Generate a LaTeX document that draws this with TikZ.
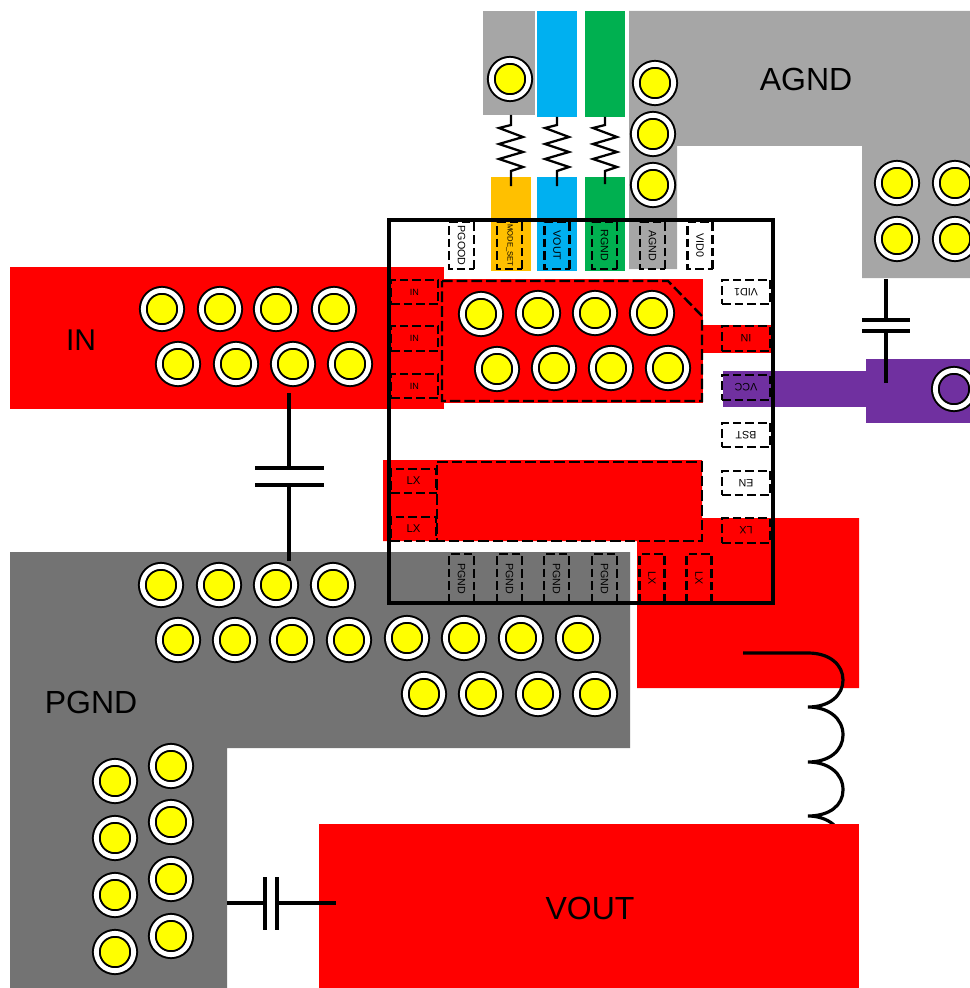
\documentclass[tikz,border=0pt]{standalone}
\usepackage{fontspec}
\setmainfont{Liberation Sans}
\definecolor{agndgrey}{HTML}{A6A6A6}
\definecolor{pgndgrey}{HTML}{737373}
\definecolor{netblue}{HTML}{00B0F0}
\definecolor{netgreen}{HTML}{00B050}
\definecolor{netorange}{HTML}{FFC000}
\definecolor{netpurple}{HTML}{7030A0}
\definecolor{netred}{HTML}{FF0000}
\definecolor{viayellow}{HTML}{FFFF00}
\def\px{0.75pt}
\tikzset{
    via/.style={circle, draw=black, fill=viayellow, line width=1.5pt, double=white, double distance=3.6pt, inner sep=0pt, minimum size=28pt},
    padbox/.style={draw=black, line width=1.7pt, dash pattern=on 6.5pt off 3pt, inner sep=0pt, font=\fontsize{8}{8}\selectfont},
    padtop/.style={padbox, rotate=-90, minimum width=47*\px, minimum height=25*\px},
    padbot/.style={padbox, rotate=-90, minimum width=49*\px, minimum height=25*\px},
    padleft/.style={padbox, minimum width=47*\px, minimum height=24.5*\px},
    padright/.style={padbox, rotate=180, minimum width=48*\px, minimum height=24.5*\px},
    bigpad/.style={draw=black, line width=1.8pt, dash pattern=on 8pt off 3pt},
    net/.style={font=\fontsize{24}{28}\selectfont},
    wire/.style={line width=2.4pt},
}
\begin{document}
\begin{tikzpicture}[x=0.75pt, y=-0.75pt]
    \clip (0,0) rectangle (970,988);

    % copper
    \fill[agndgrey] (483,11) rectangle (535,115);
    \fill[agndgrey] (629,11) -- (970,11) -- (970,278) -- (862,278) -- (862,146) -- (677,146) -- (677,269) -- (629,269) -- cycle;
    \fill[netblue] (537,11) rectangle (577,117);
    \fill[netgreen] (585,11) rectangle (625,117);
    \fill[netorange] (491,177) rectangle (531,271);
    \fill[netblue] (537,177) rectangle (577,271);
    \fill[netgreen] (585,177) rectangle (625,271);
    \fill[netred] (10,267) rectangle (444,409);
    \fill[netred] (442,279) rectangle (703,403);
    \fill[netred] (703,325) rectangle (771,353);
    \fill[netred] (383,460) -- (702,460) -- (702,518) -- (859,518) -- (859,688) -- (637,688) -- (637,541) -- (383,541) -- cycle;
    \fill[pgndgrey] (10,552) -- (630,552) -- (630,748) -- (227,748) -- (227,988) -- (10,988) -- cycle;
    \fill[netpurple] (723,371) rectangle (866,407);
    \fill[netpurple] (866,359) rectangle (970,423);

    % vias
    \foreach \x/\y in {510/79, 655/83, 653/134, 653/185,
        897/183, 955/183, 897/239, 955/239,
        162/309, 220/309, 276/309, 334/309, 178/364, 236/364, 293/364, 350/364,
        481/314, 538/313, 595/313, 652/313, 497/369, 554/368, 611/368, 668/368,
        161/585, 219/585, 276/585, 333/585,
        178/640, 235/640, 292/640, 349/640, 407/638, 464/638, 521/638, 578/638,
        424/694, 481/694, 538/694, 595/694,
        171/766, 115/781, 171/822, 115/838, 171/879, 115/895, 171/936, 115/952}
        \node[via] (v\x-\y) at (\x,\y) {};
    \node[via, fill=netpurple] (vcc via) at (954,389) {};

    % inductor, runs under VOUT
    \draw[wire] (743,653) -- (808,653) .. controls (830,653) and (843,665) .. (843,680)
        .. controls (843,695) and (830,707) .. (808,707)
        .. controls (828,707) and (843,718) .. (843,735)
        .. controls (843,750) and (830,762) .. (808,762)
        .. controls (828,762) and (843,773) .. (843,790)
        .. controls (843,805) and (830,816) .. (808,816)
        .. controls (828,816) and (843,828) .. (843,845);
    \fill[netred] (319,824) rectangle (859,988);

    % net names
    \node[net] (agnd) at (806,79) {AGND};
    \node[net, font=\fontsize{22.5}{26}\selectfont] (in) at (81,340) {IN};
    \node[net] (pgnd) at (91,702) {PGND};
    \node[net] (vout) at (590,908) {VOUT};

    % resistors
    \foreach \x/\a/\b in {511/115/186, 557/117/186, 605/117/184}
        \draw[line width=1.7pt] (\x,\a) -- (\x,125) -- (\x-12,128) -- (\x+12,137) -- (\x-12,144) -- (\x+12,152)
            -- (\x-12,159) -- (\x+12,167) -- (\x,171) -- (\x,\b);

    % capacitors
    \coordinate (c1 in) at (289,393); \coordinate (c1 a) at (289,468);
    \coordinate (c1 b) at (289,485); \coordinate (c1 out) at (289,561);
    \draw[wire] (c1 in) -- (c1 a); \draw[wire] (c1 b) -- (c1 out);
    \draw[wire] (255,468) -- (324,468); \draw[wire] (255,485) -- (324,485);

    \coordinate (c2 in) at (886,279); \coordinate (c2 a) at (886,320);
    \coordinate (c2 b) at (886,331); \coordinate (c2 out) at (886,383);
    \draw[wire] (c2 in) -- (c2 a); \draw[wire] (c2 b) -- (c2 out);
    \draw[wire] (862,320) -- (910,320); \draw[wire] (862,331) -- (910,331);

    \coordinate (c3 in) at (227,903); \coordinate (c3 a) at (265,903);
    \coordinate (c3 b) at (277,903); \coordinate (c3 out) at (336,903);
    \draw[wire] (c3 in) -- (c3 a); \draw[wire] (c3 b) -- (c3 out);
    \draw[wire] (265,877) -- (265,930); \draw[wire] (277,877) -- (277,930);

    % chip
    \draw[line width=3pt] (389,220) rectangle (773,603);
    \draw[bigpad] (442,281) -- (668,281) -- (702,316) -- (702,401) -- (442,401) -- cycle;
    \draw[bigpad] (437,462) -- (702,462) -- (702,541) -- (437,541) -- cycle;

    % pads
    \foreach \n/\x/\t in {pgood/461.5/PGOOD, vouts/557/VOUT, rgnd/604.5/RGND, agnds/652.5/AGND, vid/700/VID0}
        \node[padtop] (\n) at (\x,245.5) {\t};
    \node[padtop, font=\fontsize{5.7}{6}\selectfont] (mode) at (509.5,245.5) {MODE\_SET};
    \foreach \n/\x/\t in {pg1/461.5/PGND, pg2/509.5/PGND, pg3/556.5/PGND, pg4/604.5/PGND, lxb1/652/LX, lxb2/699/LX}
        \node[padbot] (\n) at (\x,578.5) {\t};
    \foreach \n/\y/\t in {inl1/292/IN, inl2/338.5/IN, inl3/386/IN}
        \node[padleft, font=\fontsize{6.8}{8}\selectfont] (\n) at (414.5,\y) {\t};
    \foreach \n/\y/\t in {lxl1/481/LX, lxl2/529/LX}
        \node[padleft, minimum width=45*\px, font=\fontsize{8.5}{9}\selectfont] (\n) at (413.5,\y) {\t};
    \foreach \n/\y/\t in {vid1/292/VID1, inr/338.5/IN, vcc/387.5/VCC, bst/435/BST, en/483/EN, lxr/530.5/LX}
        \node[padright] (\n) at (746,\y) {\t};
\end{tikzpicture}
\end{document}
